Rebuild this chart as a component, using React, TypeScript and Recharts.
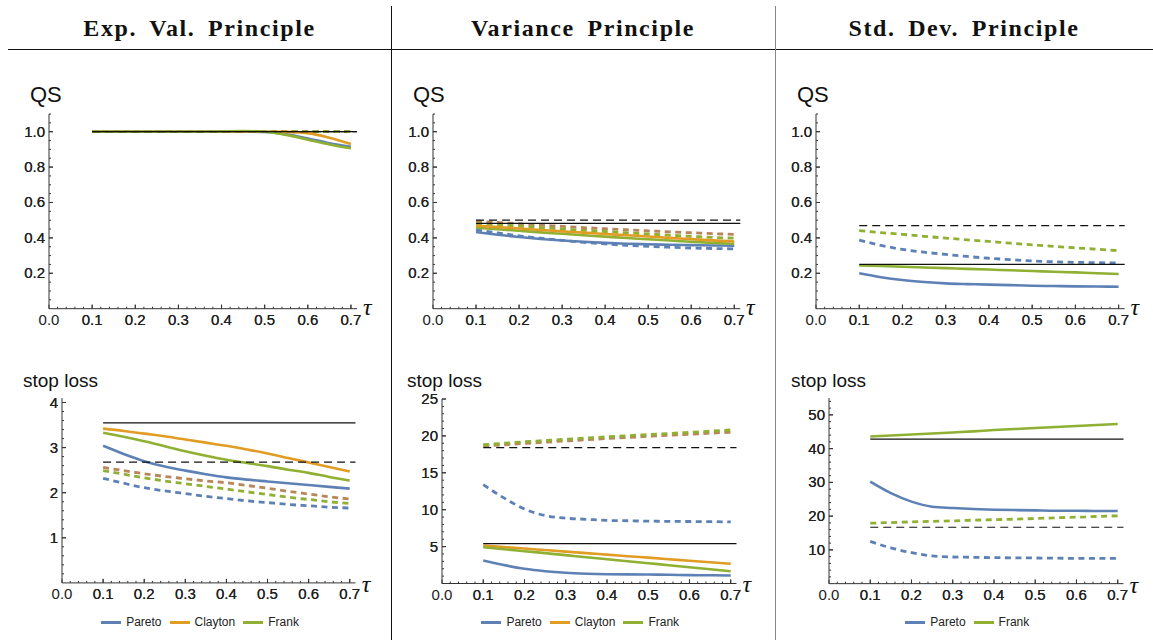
import { LineChart, Line, XAxis, YAxis, ReferenceLine } from 'recharts';

const tau = [0.1, 0.15, 0.2, 0.25, 0.3, 0.35, 0.4, 0.45, 0.5, 0.55, 0.6, 0.65, 0.7];
const xTicks = [0, 0.1, 0.2, 0.3, 0.4, 0.5, 0.6, 0.7];

// Exp. Val. principle, QS
const evQsParetoSolid = [1, 1, 1, 1, 1, 1, 1, 1.001, 0.998, 0.985, 0.962, 0.935, 0.915];
const evQsClaytonSolid = [1, 1, 1, 1, 1, 1, 1, 1, 1, 0.999, 0.992, 0.966, 0.93];
const evQsFrankSolid = [1, 1, 1, 1, 1, 1, 1.002, 1.004, 1.0, 0.982, 0.955, 0.928, 0.906];
const evQsDashed = [1, 1, 1, 1, 1, 1, 1, 1, 1, 1, 1, 1, 1];
const evQsRef = { solid: 1.0, dashed: 1.0 };

// Variance principle, QS
const varQsParetoSolid = [0.433, 0.418, 0.405, 0.394, 0.385, 0.378, 0.372, 0.367, 0.364, 0.361, 0.359, 0.357, 0.356];
const varQsParetoDashed = [0.446, 0.428, 0.412, 0.398, 0.386, 0.375, 0.366, 0.358, 0.352, 0.347, 0.343, 0.34, 0.338];
const varQsClaytonSolid = [0.469, 0.461, 0.453, 0.445, 0.437, 0.43, 0.422, 0.415, 0.408, 0.4, 0.393, 0.386, 0.38];
const varQsClaytonDashed = [0.494, 0.487, 0.48, 0.472, 0.465, 0.458, 0.452, 0.446, 0.44, 0.434, 0.429, 0.424, 0.42];
const varQsFrankSolid = [0.457, 0.449, 0.44, 0.431, 0.423, 0.415, 0.407, 0.399, 0.392, 0.385, 0.378, 0.372, 0.367];
const varQsFrankDashed = [0.481, 0.474, 0.466, 0.458, 0.45, 0.443, 0.436, 0.429, 0.422, 0.415, 0.409, 0.403, 0.398];
const varQsRef = { solid: 0.482, dashed: 0.5 };

// Std. Dev. principle, QS
const sdQsParetoSolid = [0.2, 0.178, 0.162, 0.151, 0.143, 0.139, 0.136, 0.133, 0.13, 0.128, 0.126, 0.125, 0.124];
const sdQsParetoDashed = [0.388, 0.358, 0.335, 0.319, 0.307, 0.295, 0.285, 0.277, 0.27, 0.265, 0.262, 0.26, 0.258];
const sdQsFrankSolid = [0.245, 0.241, 0.237, 0.233, 0.229, 0.225, 0.221, 0.217, 0.213, 0.209, 0.205, 0.2, 0.196];
const sdQsFrankDashed = [0.441, 0.43, 0.42, 0.409, 0.399, 0.389, 0.38, 0.37, 0.361, 0.352, 0.344, 0.336, 0.328];
const sdQsRef = { solid: 0.25, dashed: 0.469 };

// Exp. Val. principle, stop loss
const evSlParetoSolid = [3.04, 2.86, 2.7, 2.58, 2.49, 2.41, 2.34, 2.29, 2.25, 2.21, 2.17, 2.13, 2.09];
const evSlParetoDashed = [2.32, 2.21, 2.11, 2.04, 1.98, 1.92, 1.87, 1.82, 1.78, 1.74, 1.71, 1.68, 1.66];
const evSlClaytonSolid = [3.42, 3.37, 3.31, 3.25, 3.18, 3.11, 3.04, 2.96, 2.87, 2.77, 2.67, 2.57, 2.47];
const evSlClaytonDashed = [2.56, 2.49, 2.42, 2.36, 2.31, 2.26, 2.22, 2.16, 2.1, 2.03, 1.97, 1.91, 1.86];
const evSlFrankSolid = [3.33, 3.24, 3.14, 3.03, 2.92, 2.82, 2.73, 2.66, 2.59, 2.51, 2.44, 2.35, 2.27];
const evSlFrankDashed = [2.49, 2.41, 2.33, 2.26, 2.2, 2.14, 2.08, 2.02, 1.96, 1.9, 1.85, 1.8, 1.76];
const evSlRef = { solid: 3.55, dashed: 2.68 };

// Variance principle, stop loss
const varSlParetoSolid = [3.12, 2.5, 1.99, 1.66, 1.45, 1.33, 1.26, 1.23, 1.21, 1.18, 1.14, 1.11, 1.08];
const varSlParetoDashed = [13.4, 11.6, 10.1, 9.2, 8.85, 8.7, 8.55, 8.5, 8.45, 8.42, 8.4, 8.38, 8.35];
const varSlClaytonSolid = [5.15, 4.94, 4.74, 4.53, 4.32, 4.12, 3.91, 3.7, 3.5, 3.29, 3.08, 2.88, 2.67];
const varSlClaytonDashed = [18.6, 18.8, 18.98, 19.15, 19.32, 19.48, 19.64, 19.79, 19.94, 20.09, 20.23, 20.37, 20.5];
const varSlFrankSolid = [4.92, 4.65, 4.38, 4.11, 3.84, 3.56, 3.29, 3.02, 2.75, 2.48, 2.21, 1.94, 1.67];
const varSlFrankDashed = [18.8, 19.0, 19.2, 19.37, 19.54, 19.71, 19.87, 20.03, 20.18, 20.33, 20.48, 20.64, 20.8];
const varSlRef = { solid: 5.4, dashed: 18.4 };

// Std. Dev. principle, stop loss
const sdSlParetoSolid = [30.2, 26.8, 24.3, 22.8, 22.4, 22.1, 21.9, 21.8, 21.7, 21.6, 21.6, 21.5, 21.5];
const sdSlParetoDashed = [12.5, 10.6, 9.2, 8.2, 7.9, 7.8, 7.7, 7.65, 7.6, 7.55, 7.5, 7.5, 7.5];
const sdSlFrankSolid = [43.6, 43.9, 44.2, 44.5, 44.8, 45.1, 45.5, 45.8, 46.1, 46.4, 46.7, 47.0, 47.3];
const sdSlFrankDashed = [17.9, 18.1, 18.3, 18.45, 18.6, 18.8, 18.95, 19.1, 19.3, 19.5, 19.7, 19.9, 20.1];
const sdSlRef = { solid: 42.8, dashed: 16.7 };

const qsTicks = [0.2, 0.4, 0.6, 0.8, 1.0];
const evSlTicks = [1, 2, 3, 4];
const varSlTicks = [5, 10, 15, 20, 25];
const sdSlTicks = [10, 20, 30, 40, 50];

const headers = ['Exp. Val. Principle', 'Variance Principle', 'Std. Dev. Principle'];
const legendAll = ['Pareto', 'Clayton', 'Frank'];
const legendTwo = ['Pareto', 'Frank'];

const BLUE = '#5E81B5';
const ORANGE = '#E19C24';
const GREEN = '#8FB032';
const BROWN = '#B8865A';
const colorOf: Record<string, string> = { Pareto: BLUE, Clayton: ORANGE, Frank: GREEN };

const X_MAX = 0.714;
const Y_AXIS_W = 50;
const X_AXIS_H = 30;
const M_TOP = 10;
const M_RIGHT = 30;

const sans = '"Liberation Sans", Arial, sans-serif';

function range(step: number, max: number) {
  const out: number[] = [];
  for (let i = 1; i * step <= max + 1e-9; i++) out.push(+(i * step).toFixed(4));
  return out;
}

const isMajor = (v: number, majors: number[]) => majors.some((m) => Math.abs(m - v) < 1e-6);

function XTick(props: any) {
  const { x, y, payload } = props;
  const major = isMajor(payload.value, xTicks);
  return (
    <g>
      <line x1={x} x2={x} y1={y} y2={y - (major ? 4 : 2)} stroke="#333" strokeWidth={1} />
      {major && (
        <text x={x} y={y + 16} textAnchor="middle" fontFamily={sans} fontSize={15} fill="#222">
          {payload.value.toFixed(1)}
        </text>
      )}
    </g>
  );
}

function makeYTick(majors: number[], digits: number) {
  return (props: any) => {
    const { x, y, payload } = props;
    const major = isMajor(payload.value, majors);
    return (
      <g>
        <line x1={x} x2={x + (major ? 4 : 2)} y1={y} y2={y} stroke="#333" strokeWidth={1} />
        {major && (
          <text x={x - 4} y={y + 5} textAnchor="end" fontFamily={sans} fontSize={15} fill="#222">
            {payload.value.toFixed(digits)}
          </text>
        )}
      </g>
    );
  };
}

type Series = { key: string; values: number[]; color: string; dashed?: boolean };

type PanelProps = {
  x0: number;
  x1: number;
  y0: number;
  y1: number;
  yMax: number;
  yMajors: number[];
  yMinorStep: number;
  digits: number;
  series: Series[];
  refs: { solid: number; dashed: number };
  label: string;
  labelLeft: number;
  labelBase: number;
  tauDy: number;
  legend?: string[];
  legendY?: number;
};

function Panel(p: PanelProps) {
  const rows = tau.map((t, i) => {
    const r: Record<string, number> = { tau: t };
    p.series.forEach((s) => (r[s.key] = s.values[i]));
    return r;
  });
  const width = Y_AXIS_W + (p.x1 - p.x0) + M_RIGHT;
  const height = M_TOP + (p.y0 - p.y1) + X_AXIS_H;
  const left = p.x0 - Y_AXIS_W;
  const top = p.y1 - M_TOP;
  const xAll = [...xTicks, ...range(0.02, X_MAX)].sort((a, b) => a - b);
  const yAll = [...p.yMajors, ...range(p.yMinorStep, p.yMax)].sort((a, b) => a - b);
  const dashedSeries = p.series.filter((s) => s.dashed);
  const solidSeries = p.series.filter((s) => !s.dashed);

  return (
    <>
      <div style={{ position: 'absolute', left, top }}>
        <LineChart width={width} height={height} data={rows} margin={{ top: M_TOP, right: M_RIGHT, left: 0, bottom: 0 }}>
          <XAxis
            dataKey="tau"
            type="number"
            domain={[0, X_MAX]}
            ticks={xAll}
            interval={0}
            height={X_AXIS_H}
            tickSize={0}
            tickMargin={0}
            tickLine={false}
            tick={<XTick />}
            axisLine={{ stroke: '#333', strokeWidth: 1 }}
            allowDataOverflow
          />
          <YAxis
            type="number"
            domain={[0, p.yMax]}
            ticks={yAll}
            interval={0}
            width={Y_AXIS_W}
            tickSize={0}
            tickMargin={0}
            tickLine={false}
            tick={makeYTick(p.yMajors, p.digits)}
            axisLine={{ stroke: '#333', strokeWidth: 1 }}
            allowDataOverflow
          />
          {dashedSeries.map((s) => (
            <Line
              key={s.key}
              dataKey={s.key}
              type="monotone"
              stroke={s.color}
              strokeWidth={2.8}
              strokeDasharray="6 4.5"
              dot={false}
              activeDot={false}
              isAnimationActive={false}
            />
          ))}
          {solidSeries.map((s) => (
            <Line
              key={s.key}
              dataKey={s.key}
              type="monotone"
              stroke={s.color}
              strokeWidth={2.6}
              dot={false}
              activeDot={false}
              isAnimationActive={false}
            />
          ))}
          <ReferenceLine
            segment={[{ x: 0.1, y: p.refs.solid }, { x: X_MAX, y: p.refs.solid }]}
            stroke="#111"
            strokeWidth={1.3}
          />
          <ReferenceLine
            segment={[{ x: 0.1, y: p.refs.dashed }, { x: X_MAX, y: p.refs.dashed }]}
            stroke="#111"
            strokeWidth={1.2}
            strokeDasharray="8 5"
          />
        </LineChart>
      </div>
      <div style={{ ...axisLabel, left: p.labelLeft, top: p.labelBase - 19, fontSize: p.label === 'QS' ? 22 : 19 }}>
        {p.label}
      </div>
      <div style={{ ...tauLabel, left: p.x1 + 6, top: p.y0 + p.tauDy - 22 }}>τ</div>
      {p.legend && (
        <div style={{ ...legendRow, left: (p.x0 + p.x1) / 2 - 150 - 5, top: (p.legendY || 0) - 8 }}>
          {p.legend.map((name) => (
            <div key={name} style={{ display: 'flex', alignItems: 'center', marginRight: 8 }}>
              <div style={{ width: 20, height: 3, background: colorOf[name], marginRight: 5 }} />
              <span>{name}</span>
            </div>
          ))}
        </div>
      )}
    </>
  );
}

export default function App() {
  return (
    <div style={page}>
      {headers.map((h, i) => (
        <div key={h} style={{ ...header, left: [8, 391, 775][i], width: [383, 384, 378][i] }}>
          {h}
        </div>
      ))}
      <div style={{ position: 'absolute', left: 8, top: 49, width: 1145, height: 1.4, background: '#111' }} />
      <div style={{ position: 'absolute', left: 391, top: 6, width: 1.3, height: 634, background: '#111' }} />
      <div style={{ position: 'absolute', left: 774.5, top: 6, width: 1.5, height: 634, background: '#888' }} />

      <Panel
        x0={49} x1={357} y0={308.7} y1={114} yMax={1.1} yMajors={qsTicks} yMinorStep={0.05} digits={1}
        series={[
          { key: 'pd', values: evQsDashed, color: BLUE, dashed: true },
          { key: 'cd', values: evQsDashed, color: BROWN, dashed: true },
          { key: 'fd', values: evQsDashed, color: GREEN, dashed: true },
          { key: 'ps', values: evQsParetoSolid, color: BLUE },
          { key: 'cs', values: evQsClaytonSolid, color: ORANGE },
          { key: 'fs', values: evQsFrankSolid, color: GREEN },
        ]}
        refs={evQsRef} label="QS" labelLeft={30} labelBase={102} tauDy={8}
      />
      <Panel
        x0={432.7} x1={740} y0={308.7} y1={114} yMax={1.1} yMajors={qsTicks} yMinorStep={0.05} digits={1}
        series={[
          { key: 'pd', values: varQsParetoDashed, color: BLUE, dashed: true },
          { key: 'cd', values: varQsClaytonDashed, color: BROWN, dashed: true },
          { key: 'fd', values: varQsFrankDashed, color: GREEN, dashed: true },
          { key: 'ps', values: varQsParetoSolid, color: BLUE },
          { key: 'fs', values: varQsFrankSolid, color: GREEN },
          { key: 'cs', values: varQsClaytonSolid, color: ORANGE },
        ]}
        refs={varQsRef} label="QS" labelLeft={413} labelBase={102} tauDy={8}
      />
      <Panel
        x0={815.7} x1={1124.4} y0={308.7} y1={114} yMax={1.1} yMajors={qsTicks} yMinorStep={0.05} digits={1}
        series={[
          { key: 'pd', values: sdQsParetoDashed, color: BLUE, dashed: true },
          { key: 'fd', values: sdQsFrankDashed, color: GREEN, dashed: true },
          { key: 'ps', values: sdQsParetoSolid, color: BLUE },
          { key: 'fs', values: sdQsFrankSolid, color: GREEN },
        ]}
        refs={sdQsRef} label="QS" labelLeft={797} labelBase={102} tauDy={8}
      />
      <Panel
        x0={62.3} x1={355.8} y0={583.3} y1={398.4} yMax={4.1} yMajors={evSlTicks} yMinorStep={0.2} digits={0}
        series={[
          { key: 'pd', values: evSlParetoDashed, color: BLUE, dashed: true },
          { key: 'cd', values: evSlClaytonDashed, color: BROWN, dashed: true },
          { key: 'fd', values: evSlFrankDashed, color: GREEN, dashed: true },
          { key: 'ps', values: evSlParetoSolid, color: BLUE },
          { key: 'cs', values: evSlClaytonSolid, color: ORANGE },
          { key: 'fs', values: evSlFrankSolid, color: GREEN },
        ]}
        refs={evSlRef} label="stop loss" labelLeft={23} labelBase={388} tauDy={11}
        legend={legendAll} legendY={622}
      />
      <Panel
        x0={442} x1={736.5} y0={583} y1={398.5} yMax={25} yMajors={varSlTicks} yMinorStep={1} digits={0}
        series={[
          { key: 'pd', values: varSlParetoDashed, color: BLUE, dashed: true },
          { key: 'cd', values: varSlClaytonDashed, color: BROWN, dashed: true },
          { key: 'fd', values: varSlFrankDashed, color: GREEN, dashed: true },
          { key: 'ps', values: varSlParetoSolid, color: BLUE },
          { key: 'cs', values: varSlClaytonSolid, color: ORANGE },
          { key: 'fs', values: varSlFrankSolid, color: GREEN },
        ]}
        refs={varSlRef} label="stop loss" labelLeft={407} labelBase={388} tauDy={11}
        legend={legendAll} legendY={622}
      />
      <Panel
        x0={829} x1={1123.5} y0={583.75} y1={398.1} yMax={55} yMajors={sdSlTicks} yMinorStep={2} digits={0}
        series={[
          { key: 'pd', values: sdSlParetoDashed, color: BLUE, dashed: true },
          { key: 'fd', values: sdSlFrankDashed, color: GREEN, dashed: true },
          { key: 'ps', values: sdSlParetoSolid, color: BLUE },
          { key: 'fs', values: sdSlFrankSolid, color: GREEN },
        ]}
        refs={sdSlRef} label="stop loss" labelLeft={791} labelBase={388} tauDy={11}
        legend={legendTwo} legendY={622}
      />
    </div>
  );
}

const page = {
  position: 'absolute' as const,
  left: 0,
  top: 0,
  width: 1153,
  height: 640,
  background: '#fff',
  overflow: 'hidden' as const
};

const header = {
  position: 'absolute' as const,
  top: 14,
  textAlign: 'center' as const,
  fontFamily: '"Liberation Serif", "DejaVu Serif", serif',
  fontWeight: 700,
  fontSize: 24,
  letterSpacing: 1.6,
  wordSpacing: 5,
  color: '#111',
  lineHeight: '28px'
};

const axisLabel = {
  position: 'absolute' as const,
  fontFamily: sans,
  color: '#111',
  lineHeight: '24px',
  whiteSpace: 'nowrap' as const
};

const tauLabel = {
  position: 'absolute' as const,
  fontFamily: '"Liberation Serif", serif',
  fontStyle: 'italic' as const,
  fontSize: 24,
  lineHeight: '24px',
  color: '#111'
};

const legendRow = {
  position: 'absolute' as const,
  width: 300,
  display: 'flex',
  justifyContent: 'center',
  alignItems: 'center',
  fontFamily: sans,
  fontSize: 12,
  color: '#222',
  lineHeight: '16px'
};
